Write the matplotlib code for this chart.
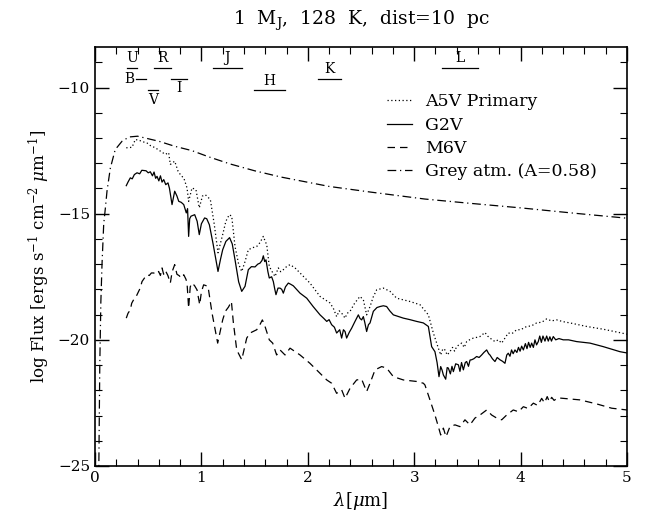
import numpy as np
import matplotlib
matplotlib.use("Agg")
import matplotlib.pyplot as plt
from matplotlib.ticker import MultipleLocator

plt.rcParams['font.family'] = ['DejaVu Serif']
plt.rcParams['mathtext.fontset'] = 'dejavuserif'

# Grey atmosphere (reflected light, A=0.58)
grey_x = [0.035, 0.045, 0.055, 0.066, 0.082, 0.097, 0.113, 0.144, 0.19, 0.254, 0.32,
          0.4, 0.47, 0.6, 0.75, 0.91, 1.07, 1.27, 1.5, 1.75, 2.2, 2.6, 3.1, 3.5, 4.0, 4.5, 5.0]
grey_y = [-25.5, -21.0, -18.5, -17.0, -15.4, -14.8, -14.1, -13.2, -12.46, -12.13, -11.96,
          -11.93, -12.0, -12.13, -12.33, -12.5, -12.75, -13.03, -13.3, -13.55, -13.92, -14.15,
          -14.42, -14.58, -14.77, -14.98, -15.18]

# G2V primary (solid)
g2v_x = [0.294, 0.31, 0.332, 0.35, 0.37, 0.395, 0.42, 0.44, 0.457, 0.48, 0.50, 0.52, 0.54,
         0.555, 0.57, 0.583, 0.60, 0.615, 0.63, 0.646, 0.665, 0.686, 0.70, 0.724, 0.749, 0.77,
         0.787, 0.81, 0.834, 0.858, 0.87, 0.88, 0.89, 0.902, 0.937, 0.96, 0.98, 1.0, 1.03, 1.05,
         1.075, 1.11, 1.156, 1.18, 1.2, 1.23, 1.265, 1.29, 1.316, 1.35, 1.379, 1.41, 1.441,
         1.47, 1.504, 1.53, 1.551, 1.57, 1.582, 1.595, 1.607, 1.625, 1.638, 1.66, 1.676, 1.69,
         1.701, 1.72, 1.739, 1.755, 1.77, 1.79, 1.817, 1.84, 1.864, 1.927, 1.99, 2.05, 2.115,
         2.15, 2.178, 2.2, 2.224, 2.25, 2.271, 2.3, 2.318, 2.335, 2.35, 2.365, 2.39, 2.412,
         2.44, 2.475, 2.49, 2.506, 2.522, 2.535, 2.553, 2.57, 2.585, 2.616, 2.65, 2.679, 2.71,
         2.741, 2.77, 2.804, 2.898, 2.96, 3.023, 3.086, 3.133, 3.164, 3.195, 3.215, 3.233,
         3.249, 3.262, 3.274, 3.296, 3.31, 3.321, 3.34, 3.355, 3.368, 3.39, 3.415, 3.43, 3.445,
         3.462, 3.48, 3.493, 3.51, 3.525, 3.54, 3.56, 3.587, 3.61, 3.634, 3.655, 3.681, 3.7,
         3.712, 3.735, 3.759, 3.78, 3.806, 3.83, 3.853, 3.87, 3.884, 3.9, 3.915, 3.93, 3.947,
         3.965, 3.98, 3.995, 4.01, 4.026, 4.045, 4.06, 4.075, 4.09, 4.104, 4.12, 4.135, 4.15,
         4.166, 4.18, 4.195, 4.21, 4.229, 4.245, 4.26, 4.275, 4.29, 4.307, 4.33, 4.36, 4.401,
         4.45, 4.527, 4.652, 4.777, 4.934, 5.0]
g2v_y = [-13.89, -13.75, -13.58, -13.62, -13.45, -13.38, -13.42, -13.28, -13.29, -13.3,
         -13.38, -13.34, -13.5, -13.35, -13.6, -13.52, -13.7, -13.5, -13.75, -13.65, -13.85,
         -13.78, -14.0, -14.64, -14.11, -14.3, -14.51, -14.55, -14.64, -14.97, -14.8, -15.9,
         -15.2, -15.1, -15.04, -15.3, -15.83, -15.4, -15.17, -15.2, -15.44, -16.2, -17.29,
         -16.8, -16.43, -16.1, -15.95, -16.2, -16.83, -17.7, -18.08, -17.88, -17.22, -17.1,
         -17.11, -17.0, -16.96, -16.85, -16.67, -16.9, -16.83, -17.3, -17.55, -17.5, -17.69,
         -18.0, -18.21, -17.95, -17.95, -18.0, -18.15, -17.9, -17.75, -17.8, -17.86, -18.15,
         -18.35, -18.68, -19.01, -19.15, -19.27, -19.2, -19.4, -19.5, -19.73, -19.6, -19.93,
         -19.6, -19.67, -19.93, -19.7, -19.54, -19.3, -19.01, -19.15, -19.21, -19.08, -19.3,
         -19.67, -19.4, -19.33, -18.87, -18.72, -18.68, -18.65, -18.68, -18.85, -19.01, -19.14,
         -19.2, -19.27, -19.33, -19.47, -20.27, -20.47, -20.9, -21.46, -21.06, -21.2, -21.39,
         -21.56, -21.1, -21.12, -21.35, -21.05, -21.26, -20.95, -20.99, -21.25, -20.9, -21.19,
         -20.9, -20.86, -21.05, -20.8, -20.79, -20.75, -20.66, -20.7, -20.6, -20.5, -20.4,
         -20.55, -20.6, -20.75, -20.86, -20.7, -20.79, -20.85, -20.93, -20.6, -20.53, -20.65,
         -20.4, -20.55, -20.4, -20.5, -20.3, -20.45, -20.25, -20.4, -20.15, -20.35, -20.1,
         -20.3, -20.13, -20.3, -20.0, -20.2, -20.07, -19.85, -20.1, -19.85, -20.05, -19.85,
         -20.05, -19.88, -20.05, -19.87, -20.0, -19.95, -20.0, -20.0, -20.07, -20.13, -20.27,
         -20.47, -20.52]

# A5V primary (dotted)
a5v_x = [0.294, 0.348, 0.379, 0.42, 0.45, 0.489, 0.52, 0.567, 0.614, 0.661, 0.692, 0.708,
         0.749, 0.78, 0.81, 0.834, 0.865, 0.88, 0.912, 0.949, 0.98, 1.01, 1.037, 1.084, 1.12,
         1.156, 1.2, 1.23, 1.262, 1.285, 1.316, 1.35, 1.379, 1.41, 1.441, 1.48, 1.52, 1.55,
         1.582, 1.6, 1.614, 1.638, 1.665, 1.692, 1.723, 1.745, 1.77, 1.8, 1.833, 1.88, 1.927,
         2.02, 2.115, 2.209, 2.24, 2.271, 2.295, 2.318, 2.35, 2.37, 2.397, 2.44, 2.49, 2.522,
         2.553, 2.585, 2.615, 2.647, 2.71, 2.773, 2.835, 2.96, 3.055, 3.133, 3.18, 3.227, 3.249,
         3.27, 3.289, 3.31, 3.336, 3.36, 3.38, 3.399, 3.42, 3.446, 3.47, 3.493, 3.52, 3.556,
         3.59, 3.618, 3.665, 3.69, 3.712, 3.759, 3.79, 3.822, 3.85, 3.884, 3.92, 3.963, 4.0,
         4.057, 4.1, 4.151, 4.2, 4.245, 4.29, 4.339, 4.4, 4.464, 4.621, 4.777, 4.95, 5.0]
a5v_y = [-12.39, -12.37, -12.06, -12.1, -12.15, -12.2, -12.3, -12.39, -12.52, -12.65, -12.58,
         -13.05, -12.92, -13.31, -13.5, -13.58, -13.98, -14.51, -13.98, -14.05, -14.77, -14.3,
         -14.25, -14.44, -15.4, -16.55, -15.83, -15.3, -15.04, -15.1, -16.3, -17.0, -17.29,
         -16.9, -16.43, -16.35, -16.3, -16.15, -15.9, -16.1, -16.23, -17.09, -17.3, -17.49,
         -17.15, -17.3, -17.22, -17.1, -17.02, -17.15, -17.35, -17.75, -18.28, -18.54, -18.75,
         -19.08, -18.85, -18.94, -19.14, -18.95, -18.87, -18.55, -18.28, -18.41, -19.01,
         -18.68, -18.3, -18.02, -17.95, -18.08, -18.35, -18.48, -18.61, -19.01, -19.73,
         -20.33, -20.6, -20.35, -20.4, -20.6, -20.47, -20.3, -20.45, -20.27, -20.2, -20.13,
         -20.3, -20.07, -20.0, -19.93, -19.9, -19.87, -19.71, -19.85, -19.93, -20.07, -20.0,
         -20.13, -19.95, -19.73, -19.75, -19.6, -19.6, -19.47, -19.45, -19.33, -19.3, -19.17,
         -19.25, -19.21, -19.28, -19.33, -19.47, -19.58, -19.73, -19.78]

# M6V primary (dashed)
m6v_x = [0.294, 0.31, 0.332, 0.345, 0.363, 0.385, 0.41, 0.425, 0.442, 0.465, 0.489, 0.51,
         0.53, 0.551, 0.575, 0.598, 0.615, 0.63, 0.645, 0.661, 0.685, 0.708, 0.725, 0.749,
         0.77, 0.792, 0.81, 0.834, 0.855, 0.865, 0.88, 0.895, 0.912, 0.935, 0.959, 0.984, 1.0,
         1.021, 1.062, 1.1, 1.153, 1.18, 1.2, 1.225, 1.255, 1.282, 1.3, 1.332, 1.379, 1.426,
         1.457, 1.52, 1.55, 1.573, 1.598, 1.638, 1.67, 1.707, 1.739, 1.786, 1.833, 1.927, 2.02,
         2.099, 2.178, 2.224, 2.271, 2.318, 2.35, 2.397, 2.459, 2.506, 2.553, 2.585, 2.632,
         2.694, 2.741, 2.804, 2.898, 3.023, 3.086, 3.101, 3.148, 3.195, 3.227, 3.249, 3.274,
         3.299, 3.336, 3.383, 3.43, 3.477, 3.524, 3.571, 3.618, 3.681, 3.728, 3.775, 3.822,
         3.869, 3.931, 3.98, 4.026, 4.07, 4.12, 4.16, 4.198, 4.225, 4.25, 4.27, 4.292, 4.315,
         4.35, 4.401, 4.558, 4.715, 4.856, 5.0]
m6v_y = [-19.14, -18.95, -18.81, -18.55, -18.41, -18.3, -18.08, -17.95, -17.69, -17.55,
         -17.42, -17.45, -17.35, -17.35, -17.4, -17.29, -17.45, -17.15, -17.4, -17.25, -17.45,
         -17.75, -17.3, -17.02, -17.4, -17.46, -17.55, -17.42, -17.6, -17.75, -18.74, -17.9,
         -17.75, -17.85, -18.02, -18.61, -18.1, -17.82, -17.88, -18.94, -20.13, -19.6, -19.21,
         -18.87, -18.7, -18.48, -19.3, -20.4, -20.79, -19.93, -19.73, -19.6, -19.4, -19.21,
         -19.47, -20.0, -20.13, -20.6, -20.4, -20.6, -20.33, -20.6, -20.93, -21.26, -21.59,
         -21.72, -22.12, -21.98, -22.32, -21.92, -21.59, -21.56, -22.05, -21.72, -21.19,
         -21.06, -21.12, -21.46, -21.59, -21.65, -21.72, -21.79, -22.38, -22.98, -23.44,
         -23.77, -23.5, -23.84, -23.44, -23.37, -23.44, -23.17, -23.37, -23.1, -22.98, -22.78,
         -22.98, -23.1, -23.17, -22.98, -22.78, -22.85, -22.65, -22.72, -22.51, -22.6, -22.32,
         -22.5, -22.25, -22.45, -22.28, -22.4, -22.3, -22.32, -22.38, -22.54, -22.71, -22.78]

# photometric bands: name, start, end, bar level
band_names = ['U', 'B', 'V', 'R', 'I', 'J', 'H', 'K', 'L']
band_lo = [0.298, 0.385, 0.501, 0.557, 0.711, 1.106, 1.494, 2.099, 3.258]
band_hi = [0.392, 0.479, 0.595, 0.714, 0.862, 1.379, 1.786, 2.312, 3.602]
band_lev = [-9.22, -9.65, -10.11, -9.22, -9.65, -9.22, -10.11, -9.65, -9.22]

fig = plt.figure(figsize=(6.48, 5.18), dpi=100)
ax = fig.add_axes([0.1466, 0.1004, 0.821, 0.8086])

lw = 0.9
ax.plot(a5v_x, a5v_y, color='black', lw=lw, ls=(0, (1, 2)), label='A5V Primary')
ax.plot(g2v_x, g2v_y, color='black', lw=lw, ls='-', label='G2V')
ax.plot(m6v_x, m6v_y, color='black', lw=lw, ls=(0, (6, 4)), label='M6V')
ax.plot(grey_x, grey_y, color='black', lw=lw, ls=(0, (7, 3, 1, 3)), label='Grey atm. (A=0.58)')

for name, lo, hi, lev in zip(band_names, band_lo, band_hi, band_lev):
    ax.plot([lo, hi], [lev, lev], color='black', lw=0.9)
    mid = 0.5 * (lo + hi)
    if name == 'B':
        ax.text(lo - 0.01, lev, name, ha='right', va='center', fontsize=10)
    elif name in ('V', 'I'):
        ax.text(mid, lev - 0.1, name, ha='center', va='top', fontsize=10)
    else:
        ax.text(mid, lev + 0.1, name, ha='center', va='bottom', fontsize=10)

ax.set_xlim(0, 5)
ax.set_ylim(-25, -8.4)
ax.xaxis.set_major_locator(MultipleLocator(1))
ax.xaxis.set_minor_locator(MultipleLocator(0.2))
ax.yaxis.set_major_locator(MultipleLocator(5))
ax.yaxis.set_minor_locator(MultipleLocator(1))
ax.tick_params(which='both', direction='in', top=True, right=True, labelsize=11)
ax.tick_params(which='major', length=10, width=1)
ax.tick_params(which='minor', length=5, width=0.8)
for s in ax.spines.values():
    s.set_linewidth(1.2)

ax.set_xlabel(r'$\lambda[\mu$m]', fontsize=13)
ax.set_ylabel(r'log Flux [ergs s$^{-1}$ cm$^{-2}$ $\mu$m$^{-1}$]', fontsize=12)
ax.set_title(r'1  M$_{\rm J}$,  128  K,  dist=10  pc', fontsize=13.5, pad=16)

ax.legend(loc='upper left', bbox_to_anchor=(0.52, 0.927), frameon=False, fontsize=12.5,
          handlelength=1.4, labelspacing=0.36, handletextpad=0.8)

fig.savefig('out.png', dpi=100)
